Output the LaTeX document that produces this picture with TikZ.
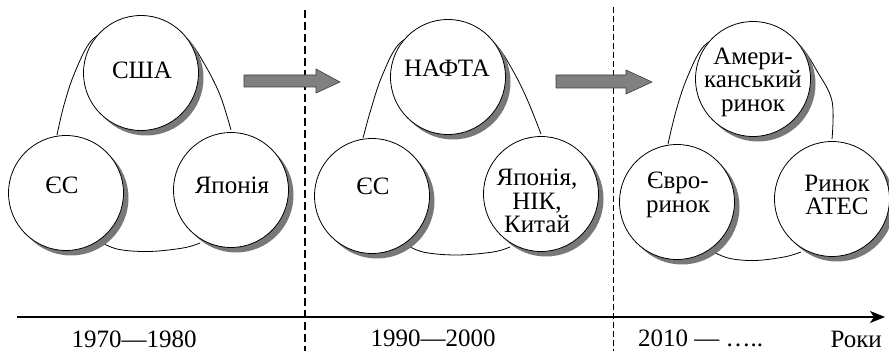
\documentclass[tikz,border=0pt]{standalone}
\usepackage{fontspec}
\setmainfont{Liberation Serif}
\usetikzlibrary{arrows.meta,calc}

\definecolor{shadowgray}{RGB}{120,120,120}
\definecolor{arrowgray}{RGB}{128,128,128}
\definecolor{arrowedge}{RGB}{60,60,60}

% closed tie between the three markets of one period:
% #1 top centre, #2 left centre, #3 right centre
\newcommand\tieloop[3]{%
  \draw[link] plot[smooth, tension=0.6] coordinates {
    ($(#2)+(-9,58)$) ($(#1)+(-77,-32)$) ($(#1)+(-66,1)$) ($(#1)+(-49,33)$)
    ($(#1)+(-24,45)$) ($(#1)+(0,48)$) ($(#1)+(24,45)$)
    ($(#1)+(47,33)$) ($(#1)+(64,8)$) ($(#1)+(79,-22)$) ($(#3)+(0,60)$)};
  \draw[link] plot[smooth, tension=0.6] coordinates {
    ($(#2)+(31,-47)$) ($(#2)+(51,-56)$) ($(#2)!0.5!(#3)+(0,-60)$)
    ($(#3)+(-48,-58)$) ($(#3)+(-31,-53)$)};
}
% a market: grey disc shifted to the lower right, white disc over it,
% and its caption; #1 name, #2 centre, #3 caption offset
\newcommand\market[3]{%
  \fill[shadowgray] ($(#2)+(5,-5)$) circle[radius=57.5pt];
  \filldraw[disc] (#2) circle[radius=57.5pt];
  \node[caption] (#1) at ($(#2)+#3$) }

\begin{document}
\begin{tikzpicture}[x=1pt,y=1pt,
  every node/.style={font=\fontsize{25}{23.5}\selectfont},
  disc/.style={fill=white, draw=black, line width=0.8pt},
  caption/.style={align=center, inner sep=0pt},
  link/.style={line width=0.8pt},
  blockarrow/.style={fill=arrowgray, draw=arrowedge, line width=0.6pt},
  era/.style={line width=2pt, dash pattern=on 8pt off 4pt},
  eralight/.style={line width=0.7pt, dash pattern=on 6pt off 3pt},
  timeaxis/.style={line width=1.6pt, -{Stealth[length=15pt, width=12pt, inset=4pt]}},
  year/.style={inner sep=0pt, anchor=base}]

\useasboundingbox (0,0) rectangle (889,351);

% period boundaries
\draw[era] (305,341) -- (305,0);
\draw[eralight] (613,344) -- (613,0);

% time axis
\coordinate (t0) at (17,34);
\coordinate (t1) at (885,34);
\draw[timeaxis] (t0) -- (t1);

% centres of the markets
\coordinate (usa-c) at (141,278);
\coordinate (eu1-c) at (66,158);
\coordinate (jp1-c) at (231,161);
\coordinate (nafta-c) at (448,274);
\coordinate (eu2-c) at (372,155);
\coordinate (jp2-c) at (541,157);
\coordinate (amer-c) at (753,272);
\coordinate (euro-c) at (677,149);
\coordinate (apec-c) at (832,152);

% ties behind the circles
\tieloop{usa-c}{eu1-c}{jp1-c}
\tieloop{nafta-c}{eu2-c}{jp2-c}
\tieloop{amer-c}{euro-c}{apec-c}

% 1970--1980
\market{usa}{usa-c}{(1,3)} {США};
\market{eu1}{eu1-c}{(-4,8)} {ЄС};
\market{jp1}{jp1-c}{(1,5)} {Японія};

% 1990--2000
\market{nafta}{nafta-c}{(-1,9)} {НАФТА};
\market{eu2}{eu2-c}{(1,10)} {ЄС};
\market{jp2}{jp2-c}{(-4,-7)} {Японія,\\НІК,\\Китай};

% 2010 onwards
\market{amer}{amer-c}{(0,-3)} {Амери-\\канський\\ринок};
\market{euro}{euro-c}{(1,7)} {Євро-\\ринок};
\market{apec}{apec-c}{(5,4)} {Ринок\\АТЕС};

% transitions between periods
\draw[blockarrow] (244,276) -- (316,276) -- (316,282) -- (340,269) -- (316,258)
  -- (316,264) -- (244,264) -- cycle;
\draw[blockarrow] (556,276) -- (626,276) -- (626,281) -- (652,269) -- (626,257)
  -- (626,263) -- (556,263) -- cycle;

% years
\node[year] at (134,4) {1970—1980};
\node[year] at (433,5) {1990—2000};
\node[year, anchor=base west] at (638,5) {2010 — …..};
\node[year, anchor=base east] at (882,4) {Роки};

\end{tikzpicture}
\end{document}
